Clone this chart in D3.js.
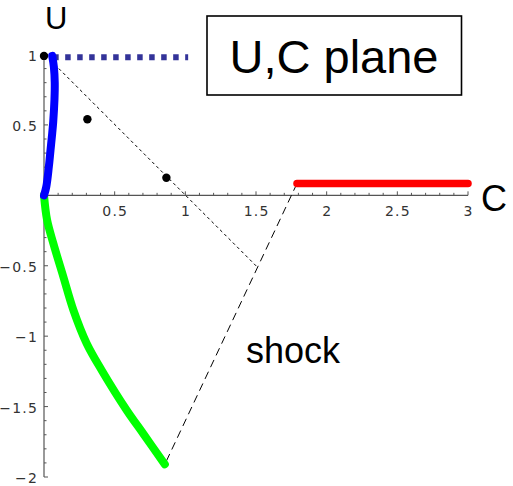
<!DOCTYPE html>
<html>
<head>
<meta charset="utf-8">
<script src="https://cdn.jsdelivr.net/npm/d3@7"></script>
<style>
  html, body { margin: 0; padding: 0; background: #fff; }
  svg { display: block; }
</style>
</head>
<body>
<svg id="chart" width="513" height="486"></svg>
<script>
// Rarefaction branch (blue), from the origin up to U ~ 1
const blueC = [0, 0.016, 0.034, 0.046, 0.058, 0.065, 0.074, 0.076, 0.07, 0.058];
const blueU = [0, 0.06, 0.2, 0.32, 0.44, 0.52, 0.68, 0.8, 0.91, 0.99];

// Expansion branch (green), from the origin down to the shock point
const greenC = [0, 0.022, 0.066, 0.137, 0.208, 0.302, 0.408, 0.585, 0.702, 0.855];
const greenU = [0, -0.176, -0.341, -0.579, -0.815, -1.052, -1.242, -1.526, -1.692, -1.91];

// Constant state (red)
const redC = [1.79, 3];
const redU = [0.084, 0.084];

// Dotted level line near U = 1
const dotLineC = [0.065, 1.02];
const dotLineU = [0.98, 0.98];

// Line C + U ~ 1 (short dashes)
const diagC = [0.075, 1.512];
const diagU = [0.93, -0.512];

// Shock line (long dashes): red start to green end
const shockC = [1.79, 0.855];
const shockU = [0.084, -1.91];

// Black points
const dotC = [0, 0.307, 0.866];
const dotU = [0.99, 0.54, 0.125];

// Tick labels
const xTicks = [0.5, 1, 1.5, 2, 2.5, 3];
const xTickLabels = ["0.5", "1", "1.5", "2", "2.5", "3"];
const yTicks = [1, 0.5, -0.5, -1, -1.5, -2];
const yTickLabels = ["1", "0.5", "\u22120.5", "\u22121", "\u22121.5", "\u22122"];

const svg = d3.select("#chart");

const x = d3.scaleLinear().domain([0, 3]).range([44, 468]);
const y = d3.scaleLinear().domain([-2, 1]).range([477, 54.5]);

const zip = (cs, us) => cs.map((c, i) => [c, us[i]]);
const line = d3.line().x(d => x(d[0])).y(d => y(d[1]));
const smooth = d3.line().x(d => x(d[0])).y(d => y(d[1])).curve(d3.curveCatmullRom.alpha(0.5));

// ---- axes ----
const axisColor = "#555";
const axes = svg.append("g");

axes.append("line")
  .attr("x1", x(0)).attr("x2", x(3))
  .attr("y1", y(0)).attr("y2", y(0))
  .attr("stroke", axisColor).attr("stroke-width", 1.2);
axes.append("line")
  .attr("x1", x(0)).attr("x2", x(0))
  .attr("y1", y(1)).attr("y2", y(-2))
  .attr("stroke", axisColor).attr("stroke-width", 1.2);

// minor + major ticks on C axis (pointing up)
const xMinor = d3.range(1, 31).map(i => i / 10);
axes.selectAll(".xt").data(xMinor).enter().append("line")
  .attr("x1", d => x(d)).attr("x2", d => x(d))
  .attr("y1", y(0))
  .attr("y2", d => y(0) - (Math.abs(d * 2 - Math.round(d * 2)) < 1e-6 ? 4 : 2.5))
  .attr("stroke", axisColor).attr("stroke-width", 1);

// minor + major ticks on U axis (pointing right)
const yMinor = d3.range(-20, 11).filter(i => i !== 0).map(i => i / 10);
axes.selectAll(".yt").data(yMinor).enter().append("line")
  .attr("y1", d => y(d)).attr("y2", d => y(d))
  .attr("x1", x(0))
  .attr("x2", d => x(0) + (Math.abs(d * 2 - Math.round(d * 2)) < 1e-6 ? 4 : 2.5))
  .attr("stroke", axisColor).attr("stroke-width", 1);

const tickFont = "'DejaVu Sans', sans-serif";
axes.selectAll(".xl").data(xTicks).enter().append("text")
  .attr("x", d => x(d) + 0.6).attr("y", y(0) + 21)
  .attr("text-anchor", "middle")
  .attr("font-family", tickFont).attr("font-size", 14)
  .attr("letter-spacing", 1.2)
  .attr("fill", "#333")
  .text((d, i) => xTickLabels[i]);

axes.selectAll(".yl").data(yTicks).enter().append("text")
  .attr("x", x(0) - 6).attr("y", d => y(d) + 6)
  .attr("text-anchor", "end")
  .attr("font-family", tickFont).attr("font-size", 14)
  .attr("letter-spacing", 1.2)
  .attr("fill", "#333")
  .text((d, i) => yTickLabels[i]);

// axis names
const bigFont = "'Liberation Sans', Arial, sans-serif";
svg.append("text").attr("x", 45).attr("y", 29)
  .attr("font-family", bigFont).attr("font-size", 31).attr("fill", "#000").text("U");
svg.append("text").attr("x", 481).attr("y", 211)
  .attr("font-family", bigFont).attr("font-size", 36).attr("fill", "#000").text("C");

// ---- guide lines ----
svg.append("path")
  .attr("d", line(zip(dotLineC, dotLineU)))
  .attr("fill", "none").attr("stroke", "#333399")
  .attr("stroke-width", 6).attr("stroke-dasharray", "5.5,6.5");

svg.append("path")
  .attr("d", line(zip(diagC, diagU)))
  .attr("fill", "none").attr("stroke", "#000")
  .attr("stroke-width", 1).attr("stroke-dasharray", "3,3");

svg.append("path")
  .attr("d", line(zip(shockC, shockU)))
  .attr("fill", "none").attr("stroke", "#000")
  .attr("stroke-width", 1).attr("stroke-dasharray", "8,5");

// ---- curves ----
svg.append("path")
  .attr("d", line(zip(redC, redU)))
  .attr("fill", "none").attr("stroke", "#ff0000")
  .attr("stroke-width", 7.5).attr("stroke-linecap", "round");

svg.append("path")
  .attr("d", smooth(zip(greenC, greenU)))
  .attr("fill", "none").attr("stroke", "#00ff00")
  .attr("stroke-width", 8).attr("stroke-linecap", "round").attr("stroke-linejoin", "round");

svg.append("path")
  .attr("d", smooth(zip(blueC, blueU)))
  .attr("fill", "none").attr("stroke", "#0000ff")
  .attr("stroke-width", 8).attr("stroke-linecap", "round").attr("stroke-linejoin", "round");

// ---- points ----
svg.selectAll(".pt").data(zip(dotC, dotU)).enter().append("circle")
  .attr("cx", d => x(d[0])).attr("cy", d => y(d[1]))
  .attr("r", 4.2).attr("fill", "#000");

// ---- annotations ----
svg.append("rect")
  .attr("x", 207).attr("y", 16).attr("width", 254.5).attr("height", 79)
  .attr("fill", "#fff").attr("stroke", "#000").attr("stroke-width", 1.6);
svg.append("text").attr("x", 334).attr("y", 73)
  .attr("text-anchor", "middle")
  .attr("font-family", bigFont).attr("font-size", 47).attr("fill", "#000")
  .text("U,C plane");

svg.append("text").attr("x", 246).attr("y", 363)
  .attr("font-family", bigFont).attr("font-size", 36).attr("fill", "#000")
  .text("shock");
</script>
</body>
</html>
